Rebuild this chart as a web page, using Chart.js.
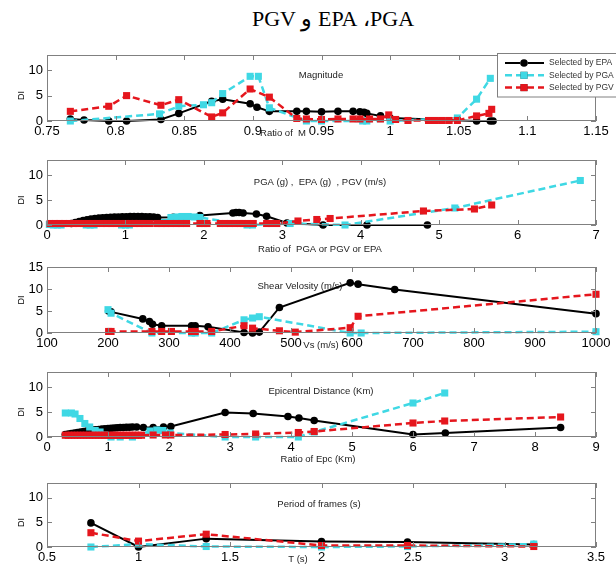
<!DOCTYPE html>
<html>
<head>
<meta charset="utf-8">
<script src="https://cdn.jsdelivr.net/npm/chart.js@4.4.1/dist/chart.umd.min.js"></script>
<style>
  html, body { margin: 0; padding: 0; background: #fff; }
  #wrap { position: relative; width: 616px; height: 569px; overflow: hidden; background: #fff; }
  #title { position: absolute; left: 233px; top: 7px; width: 200px; text-align: center;
           font: 22px "Liberation Serif", "Times New Roman", serif; line-height: 24px;
           color: #000; white-space: nowrap; }
  canvas { position: absolute; left: 0; }
</style>
</head>
<body>
<div id="wrap">
  <div id="title" dir="rtl">PGA،&#x200F; EPA و PGV</div>
</div>
<script>
// ---------- Series names ----------
const seriesNames = ['Selected by EPA', 'Selected by PGA', 'Selected by PGV'];

// ---------- Panel 1: ratio of magnitude ----------
const magTicksX = [0.75, 0.8, 0.85, 0.9, 0.95, 1, 1.05, 1.1, 1.15];
const magEpaX = [0.767, 0.777, 0.795, 0.808, 0.833, 0.846, 0.870, 0.878, 0.898, 0.903, 0.912, 0.932, 0.939, 0.950, 0.962, 0.973, 0.978, 0.981, 0.983, 0.993, 1.000, 1.063, 1.073, 1.075];
const magEpaY = [0.4, 0.2, 0, 0, 0.3, 1.5, 3.9, 4.3, 3.4, 2.7, 1.9, 1.9, 1.9, 1.8, 1.9, 1.9, 1.8, 1.7, 1.5, 1.0, 0.6, 0, 0, 0];
const magPgaX = [0.767, 0.832, 0.846, 0.864, 0.870, 0.878, 0.898, 0.904, 0.912, 0.939, 0.950, 0.980, 0.983, 1.000, 1.049, 1.063, 1.073];
const magPgaY = [0, 1.4, 2.9, 3.2, 3.6, 5.4, 8.8, 8.8, 2.6, 0, 0, 0, 0, 0, 0.6, 4.3, 8.4];
const magPgvX = [0.767, 0.795, 0.808, 0.833, 0.846, 0.870, 0.878, 0.898, 0.912, 0.932, 0.939, 0.950, 0.962, 0.973, 0.978, 0.985, 0.993, 0.999, 1.004, 1.013, 1.028, 1.033, 1.038, 1.043, 1.049, 1.063, 1.072, 1.074];
const magPgvY = [1.9, 2.9, 5.0, 3.1, 4.2, 0.8, 1.6, 6.3, 4.7, 0.5, 0.4, 0.3, 0.4, 0.4, 0.4, 0.4, 0.4, 1.2, 0.3, 0.1, 0.1, 0.1, 0.1, 0.1, 0.1, 1.0, 1.5, 2.3];

// ---------- Panel 2: ratio of PGA, PGV or EPA ----------
const pgaTicksX = [0, 1, 2, 3, 4, 5, 6, 7];
const accEpaX = [0.31, 0.36, 0.41, 0.46, 0.51, 0.56, 0.61, 0.66, 0.71, 0.76, 0.81, 0.86, 0.91, 0.96, 1.01, 1.06, 1.11, 1.16, 1.21, 1.26, 1.31, 1.36, 1.41, 1.61, 1.95, 2.37, 2.41, 2.45, 2.50, 2.67, 2.80, 3.06, 3.52, 4.08, 4.85];
const accEpaY = [0.3, 0.5, 0.7, 0.9, 1.05, 1.2, 1.3, 1.4, 1.45, 1.5, 1.55, 1.6, 1.6, 1.65, 1.65, 1.7, 1.7, 1.7, 1.7, 1.65, 1.65, 1.6, 1.5, 1.55, 1.9, 2.4, 2.5, 2.5, 2.4, 2.2, 1.75, 0.4, 0, 0, 0];
const accPgaX = [0.03, 0.08, 0.13, 0.18, 0.50, 0.55, 0.60, 0.95, 1.00, 1.05, 1.50, 1.58, 1.65, 1.72, 1.80, 1.88, 1.95, 2.55, 2.62, 3.10, 3.80, 5.20, 6.80];
const accPgaY = [0.1, 0, 0, 0, 0, 0, 0, 0, 0, 0, 0.5, 1.5, 1.6, 1.7, 1.7, 1.6, 1.5, 0, 0, 0.3, 0, 3.4, 8.9];
const accPgvX = [0.04, 0.10, 0.16, 0.22, 0.28, 0.34, 0.40, 0.46, 0.52, 0.58, 0.64, 0.70, 0.76, 0.82, 0.88, 0.94, 1.00, 1.06, 1.12, 1.18, 1.24, 1.31, 1.40, 1.46, 1.52, 1.58, 1.65, 1.71, 1.78, 1.95, 2.00, 2.04, 2.21, 2.27, 2.33, 2.40, 2.46, 2.50, 2.56, 2.63, 2.80, 2.86, 2.93, 3.20, 3.44, 3.61, 4.80, 5.45, 5.67];
const accPgvY = [0.3, 0.3, 0.3, 0.3, 0.3, 0.3, 0.3, 0.3, 0.3, 0.3, 0.3, 0.3, 0.3, 0.3, 0.3, 0.3, 0.3, 0.3, 0.3, 0.3, 0.3, 0.3, 0.3, 0.3, 0.3, 0.3, 0.3, 0.3, 0.3, 0.3, 0.3, 0.3, 0.3, 0.3, 0.3, 0.3, 0.3, 0.3, 0.3, 0.3, 0.3, 0.3, 0.3, 0.8, 1.1, 1.3, 2.8, 3.2, 4.0];

// ---------- Panel 3: shear wave velocity ----------
const vsTicksX = [100, 200, 300, 400, 500, 600, 700, 800, 900, 1000];
const vsEpaX = [201, 205, 257, 268, 273, 288, 337, 343, 364, 423, 437, 448, 481, 597, 610, 670, 1000];
const vsEpaY = [5.0, 4.8, 3.2, 2.6, 2.0, 1.65, 1.65, 1.65, 1.4, 0.1, 0, 0.2, 5.8, 11.4, 11.1, 9.9, 4.4];
const vsPgaX = [200, 205, 272, 337, 343, 370, 423, 437, 448, 597, 615, 1000];
const vsPgaY = [5.3, 4.5, 0, 0, 0, 0, 3.0, 3.4, 3.7, 0, 0, 0.3];
const vsPgvX = [201, 205, 272, 288, 304, 337, 343, 370, 423, 437, 481, 507, 597, 610, 1000];
const vsPgvY = [0.35, 0.35, 0.35, 0.35, 0.35, 0.35, 0.35, 0.35, 1.65, 1.1, 0.5, 0.2, 1.2, 3.8, 8.8];

// ---------- Panel 4: ratio of epicentral distance ----------
const epcTicksX = [0, 1, 2, 3, 4, 5, 6, 7, 8, 9];
const epcEpaX = [0.30, 0.35, 0.40, 0.45, 0.50, 0.55, 0.60, 0.65, 0.70, 0.75, 0.80, 0.85, 0.90, 0.95, 1.00, 1.05, 1.10, 1.15, 1.20, 1.25, 1.30, 1.35, 1.40, 1.47, 1.58, 1.74, 1.91, 2.03, 2.92, 3.38, 3.95, 4.13, 4.38, 6.00, 6.53, 8.42];
const epcEpaY = [0.5, 0.6, 0.7, 0.8, 0.9, 1.0, 1.1, 1.2, 1.3, 1.4, 1.45, 1.5, 1.6, 1.65, 1.7, 1.75, 1.8, 1.85, 1.9, 1.9, 1.95, 1.95, 2.0, 2.0, 1.9, 1.9, 2.0, 2.1, 4.9, 4.7, 4.1, 3.8, 3.3, 0.5, 0.8, 1.9];
const epcPgaX = [0.30, 0.40, 0.46, 0.54, 0.62, 0.70, 0.79, 0.87, 0.95, 1.05, 1.20, 1.40, 1.69, 1.80, 1.90, 2.02, 2.92, 3.42, 4.12, 4.38, 6.00, 6.52];
const epcPgaY = [4.8, 4.8, 4.6, 3.7, 2.7, 2.0, 1.3, 1.0, 0.4, 0, 0, 0, 1.2, 1.4, 1.3, 0.8, 0, 0, 0, 1.0, 6.8, 8.8];
const epcPgvX = [0.30, 0.35, 0.40, 0.45, 0.50, 0.55, 0.60, 0.65, 0.70, 0.75, 0.80, 0.85, 0.90, 0.95, 1.00, 1.05, 1.10, 1.15, 1.20, 1.25, 1.30, 1.35, 1.40, 1.45, 1.50, 1.55, 1.74, 1.94, 2.03, 2.92, 3.42, 4.12, 4.38, 6.00, 6.52, 8.42];
const epcPgvY = [0.35, 0.35, 0.35, 0.35, 0.35, 0.35, 0.35, 0.35, 0.35, 0.35, 0.35, 0.35, 0.35, 0.35, 0.35, 0.35, 0.35, 0.35, 0.35, 0.35, 0.35, 0.35, 0.35, 0.35, 0.35, 0.35, 0.4, 0.4, 0.4, 0.5, 0.6, 0.9, 1.1, 2.8, 3.2, 4.0];

// ---------- Panel 5: period of frames ----------
const periodTicksX = [0.5, 1, 1.5, 2, 2.5, 3, 3.5];
const periodEpaX = [0.74, 1.0, 1.37, 2.0, 2.47, 3.16];
const periodEpaY = [4.9, 0, 1.7, 1.1, 1.0, 0.5];
const periodPgaX = [0.74, 1.0, 1.37, 2.0, 2.47, 3.16];
const periodPgaY = [0, 0.6, 0.1, 0, 0.1, 0.6];
const periodPgvX = [0.74, 1.0, 1.37, 2.0, 2.47, 3.16];
const periodPgvY = [2.9, 1.2, 2.6, 0.3, 0.3, 0.1];

const diTicks = [0, 5, 10];
const diTicksVs = [0, 5, 10, 15];

// ---------- Styling ----------
const FONT = '"Liberation Sans", Arial, Helvetica, sans-serif';
const COL_EPA = '#000000', COL_PGA = '#3fd8e4', COL_PGV = '#e5161d';
const PLOT_LEFT = 47, PLOT_RIGHT = 596, PAD_TOP = 12, AXIS_H = 42;

function pts(xs, ys) { return xs.map((x, i) => ({ x: x, y: ys[i] })); }

function makeSets(ex, ey, ax, ay, vx, vy) {
  const base = { showLine: true, tension: 0, clip: false, pointBorderWidth: 0, fill: false };
  return [
    Object.assign({}, base, { label: seriesNames[0], data: pts(ex, ey), borderColor: COL_EPA, backgroundColor: COL_EPA,
      borderWidth: 2, pointStyle: 'circle', pointRadius: 3.8, pointHoverRadius: 3.8, order: 2 }),
    Object.assign({}, base, { label: seriesNames[1], data: pts(ax, ay), borderColor: COL_PGA, backgroundColor: COL_PGA,
      borderWidth: 2.5, borderDash: [7, 4], pointStyle: 'rect', pointRadius: 5, pointHoverRadius: 5, order: 1 }),
    Object.assign({}, base, { label: seriesNames[2], data: pts(vx, vy), borderColor: COL_PGV, backgroundColor: COL_PGV,
      borderWidth: 2.5, borderDash: [7, 4], pointStyle: 'rect', pointRadius: 5, pointHoverRadius: 5, order: 0 })
  ];
}

const panels = [
  { top: 55, bottom: 121, xMin: 0.75, xMax: 1.15, xTicks: magTicksX, yMax: 13, yTicks: diTicks,
    sets: makeSets(magEpaX, magEpaY, magPgaX, magPgaY, magPgvX, magPgvY),
    note: { text: 'Magnitude', x: 321, y: 75 }, xLabel: { text: 'Ratio of  M', x: 283, y: 133 }, legend: true },
  { top: 160, bottom: 225, xMin: 0, xMax: 7, xTicks: pgaTicksX, yMax: 13, yTicks: diTicks,
    sets: makeSets(accEpaX, accEpaY, accPgaX, accPgaY, accPgvX, accPgvY),
    note: { text: 'PGA (g) ,  EPA (g)  , PGV (m/s)', x: 320, y: 182 }, xLabel: { text: 'Ratio of  PGA or PGV or EPA', x: 320, y: 249 } },
  { top: 267, bottom: 333, xMin: 100, xMax: 1000, xTicks: vsTicksX, yMax: 15, yTicks: diTicksVs,
    sets: makeSets(vsEpaX, vsEpaY, vsPgaX, vsPgaY, vsPgvX, vsPgvY),
    note: { text: 'Shear Velosity (m/s)', x: 300, y: 286 }, xLabel: { text: 'Vs (m/s)', x: 321, y: 345 } },
  { top: 372, bottom: 437, xMin: 0, xMax: 9, xTicks: epcTicksX, yMax: 13, yTicks: diTicks,
    sets: makeSets(epcEpaX, epcEpaY, epcPgaX, epcPgaY, epcPgvX, epcPgvY),
    note: { text: 'Epicentral Distance (Km)', x: 321, y: 391 }, xLabel: { text: 'Ratio of Epc (Km)', x: 318, y: 459 } },
  { top: 483, bottom: 547, xMin: 0.5, xMax: 3.5, xTicks: periodTicksX, yMax: 13, yTicks: diTicks,
    sets: makeSets(periodEpaX, periodEpaY, periodPgaX, periodPgaY, periodPgvX, periodPgvY),
    note: { text: 'Period of frames (s)', x: 319, y: 504 }, xLabel: { text: 'T (s)', x: 298, y: 559 } }
];

// Axes box with inward tick marks on all four sides
const boxPlugin = {
  id: 'boxFrame',
  afterDatasetsDraw(chart) {
    const { ctx, chartArea: a, scales } = chart;
    ctx.save();
    ctx.strokeStyle = '#808080';
    ctx.lineWidth = 1;
    ctx.strokeRect(Math.round(a.left) + 0.5, Math.round(a.top) + 0.5,
                   Math.round(a.right - a.left) - 1, Math.round(a.bottom - a.top) - 1);
    ctx.beginPath();
    scales.x.ticks.forEach(t => {
      const px = Math.round(scales.x.getPixelForValue(t.value)) + 0.5;
      ctx.moveTo(px, a.bottom); ctx.lineTo(px, a.bottom - 5);
      ctx.moveTo(px, a.top); ctx.lineTo(px, a.top + 5);
    });
    scales.y.ticks.forEach(t => {
      const py = Math.round(scales.y.getPixelForValue(t.value)) + 0.5;
      ctx.moveTo(a.left, py); ctx.lineTo(a.left + 5, py);
      ctx.moveTo(a.right, py); ctx.lineTo(a.right - 5, py);
    });
    ctx.stroke();
    ctx.restore();
  }
};

// Axis labels, in-axes caption and legend
const textPlugin = {
  id: 'panelText',
  afterDraw(chart) {
    const p = chart.options.plugins.panelText;
    const { ctx, scales } = chart;
    const off = p.canvasTop;
    ctx.save();
    ctx.fillStyle = '#000';
    ctx.textAlign = 'center';
    ctx.textBaseline = 'middle';
    // y label, centred on the tick span
    const ticks = scales.y.ticks;
    const yMid = (scales.y.getPixelForValue(ticks[0].value) + scales.y.getPixelForValue(ticks[ticks.length - 1].value)) / 2;
    ctx.save();
    ctx.translate(22, yMid);
    ctx.rotate(-Math.PI / 2);
    ctx.font = '9px ' + FONT;
    ctx.fillText('DI', 0, 0);
    ctx.restore();
    // caption inside the axes
    ctx.font = '9.5px ' + FONT;
    ctx.fillStyle = '#222';
    ctx.fillText(p.note.text, p.note.x, p.note.y - off);
    // x label
    ctx.font = '9.5px ' + FONT;
    ctx.fillText(p.xLabel.text, p.xLabel.x, p.xLabel.y - off);
    ctx.restore();

    if (p.legend) {
      const x0 = 497, y0 = 53.5 - off, h = 43.5;
      ctx.save();
      ctx.fillStyle = '#fff';
      ctx.fillRect(x0, y0, 130, h);
      ctx.strokeStyle = '#808080';
      ctx.lineWidth = 1;
      ctx.strokeRect(x0 + 0.5, y0, 130, h);
      chart.data.datasets.forEach((d, i) => {
        const yy = y0 + 9.5 + i * 12.3;
        ctx.beginPath();
        ctx.strokeStyle = d.borderColor;
        ctx.lineWidth = d.borderWidth;
        ctx.setLineDash(d.borderDash || []);
        ctx.moveTo(505, yy); ctx.lineTo(544, yy);
        ctx.stroke();
        ctx.setLineDash([]);
        Chart.helpers.drawPoint(ctx, { pointStyle: d.pointStyle, radius: d.pointRadius, borderWidth: 0, rotation: 0 }, 524, yy);
        ctx.fillStyle = d.backgroundColor;
        ctx.fill();
        ctx.fillStyle = '#333';
        ctx.font = '8.5px ' + FONT;
        ctx.textAlign = 'left';
        ctx.textBaseline = 'middle';
        ctx.fillText(d.label, 549, yy);
      });
      ctx.restore();
    }
  }
};

Chart.defaults.font.family = FONT;
Chart.defaults.color = '#000';

const wrap = document.getElementById('wrap');
panels.forEach((p) => {
  const cv = document.createElement('canvas');
  const canvasTop = p.top - PAD_TOP;
  const height = (p.bottom - p.top) + PAD_TOP + AXIS_H;
  cv.width = 616; cv.height = height;
  cv.style.top = canvasTop + 'px';
  cv.style.width = '616px'; cv.style.height = height + 'px';
  wrap.appendChild(cv);

  new Chart(cv.getContext('2d'), {
    type: 'scatter',
    data: { datasets: p.sets },
    plugins: [boxPlugin, textPlugin],
    options: {
      responsive: false,
      animation: false,
      devicePixelRatio: 1,
      events: [],
      layout: { padding: { top: PAD_TOP, left: 0, right: 616 - PLOT_RIGHT, bottom: 0 } },
      plugins: {
        legend: { display: false },
        tooltip: { enabled: false },
        panelText: { canvasTop: canvasTop, note: p.note, xLabel: p.xLabel, legend: !!p.legend }
      },
      scales: {
        x: {
          type: 'linear', min: p.xMin, max: p.xMax,
          afterBuildTicks: s => { s.ticks = p.xTicks.map(v => ({ value: v })); },
          afterFit: s => { s.height = AXIS_H; },
          grid: { display: false, drawTicks: false },
          border: { display: false },
          ticks: { autoSkip: false, maxRotation: 0, padding: 3, font: { size: 13 }, color: '#000',
                   callback: v => String(v) }
        },
        y: {
          type: 'linear', min: 0, max: p.yMax,
          afterBuildTicks: s => { s.ticks = p.yTicks.map(v => ({ value: v })); },
          afterFit: s => { s.width = PLOT_LEFT; },
          grid: { display: false, drawTicks: false },
          border: { display: false },
          ticks: { padding: 4, font: { size: 13 }, color: '#000', callback: v => String(v) }
        }
      }
    }
  });
});
</script>
</body>
</html>
